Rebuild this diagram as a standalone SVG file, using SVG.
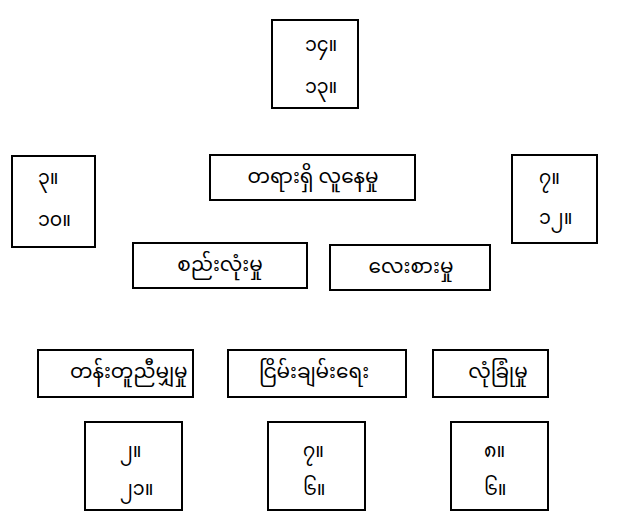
<svg xmlns="http://www.w3.org/2000/svg" width="619" height="518" viewBox="0 0 619 518">
<style>
rect{fill:#fff;stroke:#000;stroke-width:2}
text{font-family:"Noto Sans Myanmar","Padauk","Myanmar Text","Noto Sans",sans-serif;font-size:19px;fill:#000}
.w{font-size:20px}
.c{text-anchor:middle}
</style>
<g id="n14"><rect x="272" y="20" width="86" height="88"/><text x="305" y="51">၁၄။</text><text x="305" y="93">၁၃။</text></g>
<g id="n3"><rect x="12" y="156" width="83" height="91"/><text x="38" y="184">၃။</text><text x="38" y="226">၁၀။</text></g>
<g id="nTaya"><rect x="210" y="155" width="205" height="45"/><text class="c w" x="313" y="183">တရားရှိ လူနေမှု</text></g>
<g id="n7"><rect x="512" y="155" width="85" height="88"/><text x="539" y="184">၇။</text><text x="539" y="224">၁၂။</text></g>
<g id="nSi"><rect x="133" y="243" width="174" height="45"/><text class="c w" x="220" y="271">စည်းလုံးမှု</text></g>
<g id="nLay"><rect x="330" y="245" width="160" height="45"/><text class="c w" x="411" y="273">လေးစားမှု</text></g>
<g id="nTan"><rect x="38" y="350" width="155" height="47"/><text class="w" x="70" y="378">တန်းတူညီမျှမှု</text></g>
<g id="nNyein"><rect x="228" y="350" width="178" height="47"/><text class="c w" x="314" y="378">ငြိမ်းချမ်းရေး</text></g>
<g id="nLone"><rect x="433" y="350" width="115" height="47"/><text class="c w" x="498" y="378">လုံခြုံမှု</text></g>
<g id="b1"><rect x="85" y="422" width="97" height="88"/><text x="120" y="457">၂။</text><text x="120" y="495">၂၁။</text></g>
<g id="b2"><rect x="268" y="422" width="97" height="88"/><text x="303" y="457">၇။</text><text x="303" y="495">၆။</text></g>
<g id="b3"><rect x="451" y="422" width="97" height="88"/><text x="484" y="457">၈။</text><text x="484" y="495">၆။</text></g>
<g id="connectors"></g>
</svg>
